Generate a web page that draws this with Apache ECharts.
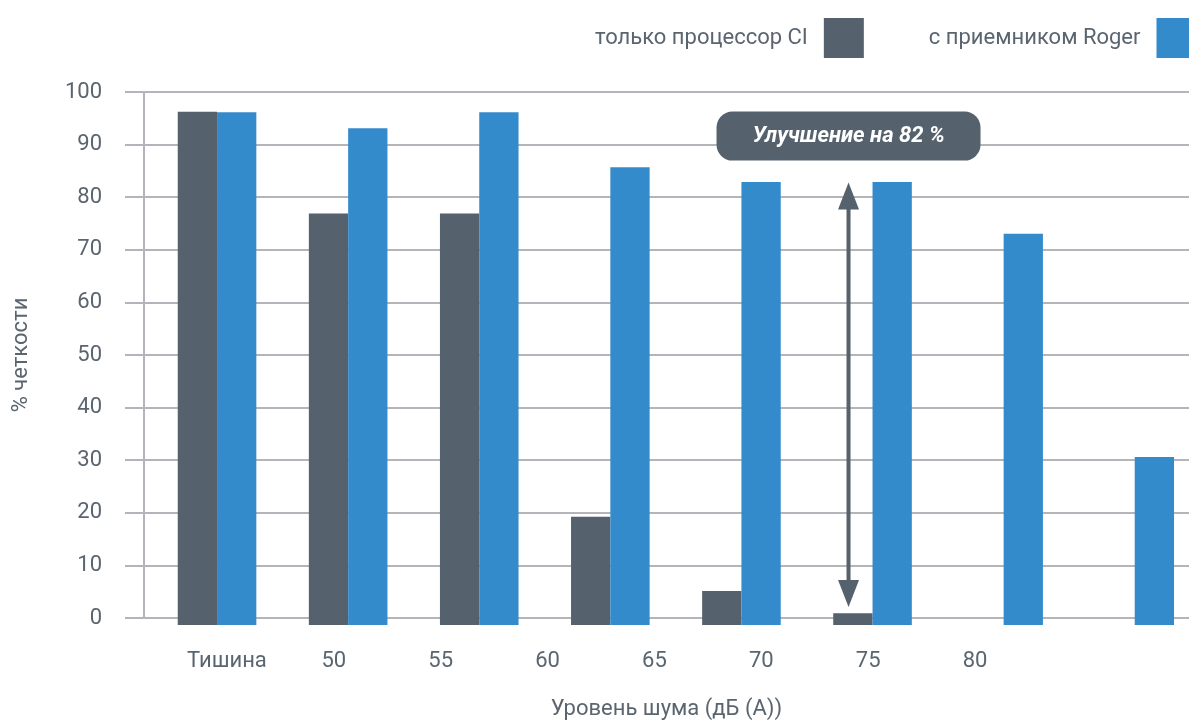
<!DOCTYPE html>
<html>
<head>
<meta charset="utf-8">
<script src="https://cdn.jsdelivr.net/npm/echarts@6/dist/echarts.min.js"></script>
<style>
  html, body { margin: 0; padding: 0; background: #fff; }
  #main { width: 1189px; height: 725px; }
</style>
</head>
<body>
<div id="main"></div>
<script>
// данные
const noiseLevels = ['Тишина', '50', '55', '60', '65', '70', '75', '80']
const ciOnly = [96.3, 77.2, 77.2, 20.3, 6.4, 2.2, 0, 0]
const withRoger = [96.2, 93.2, 96.2, 85.9, 83.1, 83.1, 73.4, 31.5]
const seriesNames = ['только процессор CI', 'с приемником Roger']
const arrowRange = [3.4, 83]
const improvementText = 'Улучшение на 82 %'

const FONT = 'Roboto'
const TEXT = '#5a6570'
const DARK = '#55616d'
const BLUE = '#348bcb'
const GRIDC = '#b4b5ba'

const chart = echarts.init(document.getElementById('main'))

// группа столбцов i стоит на позиции i оси значений
const toPoints = arr => arr.map((v, i) => [i, v])

const option = {
  animation: false,
  textStyle: { fontFamily: FONT },
  legend: {
    left: 590,
    top: 13,
    width: 700,
    align: 'right',
    icon: 'rect',
    itemWidth: 40,
    itemHeight: 40,
    itemGap: 65,
    textStyle: { fontSize: 22, color: TEXT, padding: [4, 11, 0, 0] },
    data: seriesNames
  },
  grid: [
    { left: 144, right: 0, top: 92, bottom: 100 },
    { left: 151.5, right: 0, top: 92, bottom: 100 },
    { left: 173.5, width: 855, top: 92, bottom: 100 }
  ],
  xAxis: [
    {
      gridIndex: 0,
      type: 'value',
      min: 0,
      max: 1,
      axisLine: { show: false },
      axisTick: { show: false },
      axisLabel: { show: false },
      splitLine: { show: false },
      name: 'Уровень шума (дБ (A))',
      nameLocation: 'middle',
      nameGap: 80,
      nameTextStyle: { fontSize: 22, color: TEXT }
    },
    {
      gridIndex: 1,
      type: 'value',
      min: -0.5,
      max: 7.414,
      show: false
    },
    {
      gridIndex: 2,
      type: 'category',
      data: noiseLevels,
      axisLine: { show: false },
      axisTick: { show: false },
      axisLabel: { fontSize: 22, color: TEXT, margin: 25 }
    }
  ],
  yAxis: [
    {
      gridIndex: 0,
      type: 'value',
      min: 0,
      max: 100,
      interval: 10,
      axisLine: { show: true, lineStyle: { color: GRIDC, width: 2 } },
      axisTick: { show: true, length: 19, lineStyle: { color: GRIDC, width: 2 } },
      axisLabel: { fontSize: 22, color: TEXT, margin: 42 },
      splitLine: { show: true, lineStyle: { color: GRIDC, width: 2 } },
      name: '% четкости',
      nameLocation: 'middle',
      nameGap: 112,
      nameTextStyle: { fontSize: 22, color: TEXT }
    },
    { gridIndex: 1, type: 'value', min: 0, max: 100, show: false },
    { gridIndex: 2, type: 'value', min: 0, max: 100, show: false }
  ],
  series: [
    {
      name: seriesNames[0],
      type: 'bar',
      xAxisIndex: 1,
      yAxisIndex: 1,
      barWidth: 39.3,
      barGap: '0%',
      itemStyle: { color: DARK },
      data: toPoints(ciOnly)
    },
    {
      name: seriesNames[1],
      type: 'bar',
      xAxisIndex: 1,
      yAxisIndex: 1,
      barWidth: 39.3,
      barGap: '0%',
      itemStyle: { color: BLUE },
      data: toPoints(withRoger)
    }
  ]
}

chart.setOption(option)

// стрелка и подпись
const cx = chart.convertToPixel({ xAxisIndex: 1 }, 5) - 24
const yTop = chart.convertToPixel({ yAxisIndex: 1 }, arrowRange[1])
const yBot = chart.convertToPixel({ yAxisIndex: 1 }, arrowRange[0])
const head = 27

chart.setOption({
  graphic: [
    {
      type: 'line',
      z: 10,
      shape: { x1: cx, y1: yTop + head - 2, x2: cx, y2: yBot - head + 2 },
      style: { stroke: DARK, lineWidth: 4 }
    },
    {
      type: 'polygon',
      z: 10,
      shape: { points: [[cx, yTop], [cx - 10.5, yTop + head], [cx + 10.5, yTop + head]] },
      style: { fill: DARK }
    },
    {
      type: 'polygon',
      z: 10,
      shape: { points: [[cx, yBot], [cx - 10.5, yBot - head], [cx + 10.5, yBot - head]] },
      style: { fill: DARK }
    },
    {
      type: 'rect',
      z: 10,
      shape: { x: cx - 132, y: yTop - 71, width: 264, height: 49, r: 16 },
      style: { fill: DARK }
    },
    {
      type: 'text',
      z: 11,
      x: cx,
      y: yTop - 46.5,
      style: {
        text: improvementText,
        fill: '#fff',
        font: 'italic bold 22px ' + FONT,
        textAlign: 'center',
        textVerticalAlign: 'middle'
      }
    }
  ]
})

window.addEventListener('resize', () => chart.resize())
</script>
</body>
</html>
